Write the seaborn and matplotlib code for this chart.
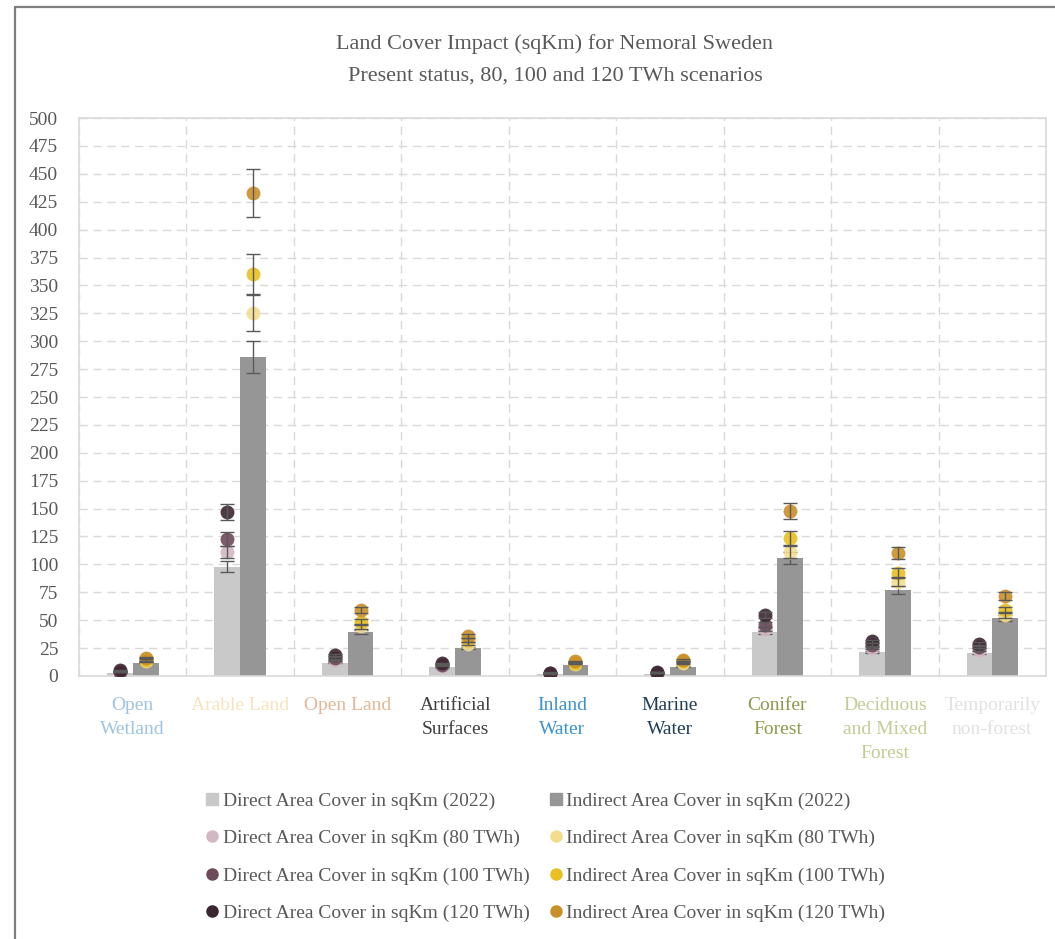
import numpy as np
import pandas as pd
import matplotlib
matplotlib.use("Agg")
import matplotlib.pyplot as plt
from matplotlib.lines import Line2D
import seaborn as sns

# ---- data ---------------------------------------------------------------
categories = ["Open\nWetland", "Arable Land", "Open Land", "Artificial\nSurfaces",
              "Inland\nWater", "Marine\nWater", "Conifer\nForest",
              "Deciduous\nand Mixed\nForest", "Temporarily\nnon-forest"]

direct_2022 = [3, 98, 12, 8, 2, 2, 39.5, 21.5, 21]
indirect_2022 = [12, 286, 39.5, 25, 9.5, 8.5, 106, 77, 52]

direct_80 = [3.5, 111, 14, 9, 2, 2.5, 42, 25, 23.5]
direct_100 = [4, 123, 16, 10, 2.5, 3, 46, 28, 26]
direct_120 = [5, 147, 18.5, 11.5, 3, 3.5, 55, 31, 29]

indirect_80 = [13, 325, 44.5, 29, 11, 11.5, 111, 84.5, 54.5]
indirect_100 = [14.5, 360, 48.5, 32, 12, 13, 124, 92, 59]
indirect_120 = [16.5, 433, 59, 36, 13, 14.5, 148, 110.5, 71.5]

label_colors = ["#9dc3e6", "#f8e3bd", "#e5b797", "#404040", "#3a92d2",
                "#203d57", "#8c9a4a", "#c5cb94", "#e1e1e1"]

# percentage error bars (5 %)
ERR_FRAC = 0.05

# ---- styling ------------------------------------------------------------
sns.set_theme(style="white")
plt.rcParams["font.family"] = ["Liberation Serif", "DejaVu Serif"]
TXT = "#595959"
GRID = "#d9d9d9"
ERRC = "#595959"

fig = plt.figure(figsize=(10.55, 9.39), dpi=100, facecolor="white")
ax = fig.add_axes([0.0749, 0.2801, 0.9166, 0.5942])

# ---- bars ---------------------------------------------------------------
bar_df = pd.DataFrame({
    "category": categories * 2,
    "series": ["Direct Area Cover in sqKm (2022)"] * len(categories)
              + ["Indirect Area Cover in sqKm (2022)"] * len(categories),
    "value": direct_2022 + indirect_2022,
})
bar_colors = ["#c9c9c9", "#969696"]
sns.barplot(data=bar_df, x="category", y="value", hue="series",
            order=categories, palette=bar_colors, width=0.48, dodge=True,
            errorbar=None, legend=False, saturation=1, ax=ax, zorder=2,
            linewidth=0)

# error bars on the bars, placed at each drawn bar
for p in ax.patches:
    h = p.get_height()
    xc = p.get_x() + p.get_width() / 2
    ax.errorbar(xc, h, yerr=h * ERR_FRAC, fmt="none", ecolor=ERRC,
                elinewidth=1.0, capsize=5, capthick=1.0, zorder=3)

# ---- scenario points ----------------------------------------------------
xpos = np.arange(len(categories))
offset = 0.12
point_series = [
    (direct_80, -offset, "#d3b8c4", "Direct Area Cover in sqKm (80 TWh)"),
    (direct_100, -offset, "#6e4a5b", "Direct Area Cover in sqKm (100 TWh)"),
    (direct_120, -offset, "#3b2531", "Direct Area Cover in sqKm (120 TWh)"),
    (indirect_80, offset, "#f3dd8d", "Indirect Area Cover in sqKm (80 TWh)"),
    (indirect_100, offset, "#e9bf22", "Indirect Area Cover in sqKm (100 TWh)"),
    (indirect_120, offset, "#c98f28", "Indirect Area Cover in sqKm (120 TWh)"),
]
for vals, off, col, lab in point_series:
    v = np.asarray(vals, dtype=float)
    ax.plot(xpos + off, v, "o", color=col, markersize=10, alpha=0.9,
            markeredgewidth=0, zorder=4)
    ax.errorbar(xpos + off, v, yerr=v * ERR_FRAC, fmt="none", ecolor=ERRC,
                elinewidth=1.0, capsize=5, capthick=1.0, zorder=5)

# ---- axes ---------------------------------------------------------------
ax.set_xlim(-0.5, len(categories) - 0.5)
ax.set_ylim(0, 500)
ax.set_yticks(np.arange(0, 501, 25))
ax.set_xlabel("")
ax.set_ylabel("")
ax.set_facecolor("white")

ax.set_xticks(xpos)
ax.set_xticklabels(categories, fontsize=14, linespacing=1.55)
for t, c in zip(ax.get_xticklabels(), label_colors):
    t.set_color(c)
ax.set_xticks(np.arange(-0.5, len(categories), 1), minor=True)

ax.tick_params(axis="y", length=0, pad=15, labelsize=14, labelcolor=TXT)
ax.tick_params(axis="x", which="major", length=0, pad=15)
ax.tick_params(axis="x", which="minor", length=7, width=1.2, color=GRID,
               direction="out")

ax.yaxis.grid(True, color=GRID, linestyle=(0, (6, 4)), linewidth=1.0)
ax.xaxis.grid(True, which="minor", color=GRID, linestyle=(0, (6, 4)),
              linewidth=1.0)
ax.xaxis.grid(False, which="major")
ax.set_axisbelow(True)
for s in ax.spines.values():
    s.set_visible(True)
    s.set_color(GRID)
    s.set_linewidth(1.2)

# ---- title --------------------------------------------------------------
fig.text(0.526, 0.953, "Land Cover Impact (sqKm) for Nemoral Sweden",
         ha="center", va="center", fontsize=16, color=TXT)
fig.text(0.526, 0.919, "Present status, 80, 100 and 120 TWh scenarios",
         ha="center", va="center", fontsize=16, color=TXT)

# ---- legend -------------------------------------------------------------
def sq(c):
    return Line2D([], [], marker="s", linestyle="none", color=c, markersize=8)

def dot(c):
    return Line2D([], [], marker="o", linestyle="none", color=c, markersize=8)

handles = [sq(bar_colors[0]), dot(point_series[0][2]), dot(point_series[1][2]),
           dot(point_series[2][2]), sq(bar_colors[1]), dot(point_series[3][2]),
           dot(point_series[4][2]), dot(point_series[5][2])]
labels = ["Direct Area Cover in sqKm (2022)", point_series[0][3],
          point_series[1][3], point_series[2][3],
          "Indirect Area Cover in sqKm (2022)", point_series[3][3],
          point_series[4][3], point_series[5][3]]
fig.legend(handles, labels, ncol=2, loc="upper left",
           bbox_to_anchor=(0.188, 0.165), frameon=False, fontsize=14,
           labelcolor=TXT, handlelength=0.6, handletextpad=0.25,
           columnspacing=1.05, labelspacing=1.02, borderaxespad=0)

# ---- outer frame --------------------------------------------------------
fig.add_artist(Line2D([0.0142, 0.0142], [0.0, 0.9925], transform=fig.transFigure,
                      color="#7f7f7f", linewidth=1.6))
fig.add_artist(Line2D([0.0142, 1.0], [0.9925, 0.9925], transform=fig.transFigure,
                      color="#7f7f7f", linewidth=1.6))

fig.savefig("out.png", dpi=100, facecolor="white")
